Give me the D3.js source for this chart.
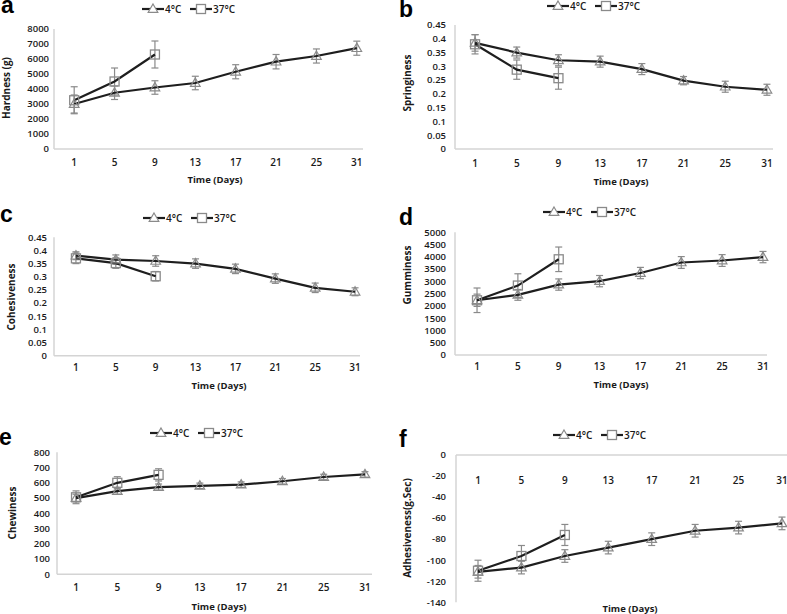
<!DOCTYPE html>
<html><head><meta charset="utf-8">
<script src="https://cdn.jsdelivr.net/npm/d3@7/dist/d3.min.js"></script>
<style>
body{margin:0;background:#fff;}
svg text{font-family:"Open Sans","DejaVu Sans",sans-serif;}
</style></head>
<body><svg id="chart" width="787" height="614"></svg>
<script>
const days = ["1","5","9","13","17","21","25","31"];
const days37 = ["1","5","9"];
const seriesNames = ["4°C","37°C"];

const hardness4 = [3000,3750,4100,4400,5150,5820,6200,6720];
const hardness4Err = [600,450,450,450,470,480,470,470];
const hardness37 = [3250,4500,6300];
const hardness37Err = [900,900,900];
const hardnessTicks = [0,1000,2000,3000,4000,5000,6000,7000,8000];

const springiness4 = [0.385,0.350,0.322,0.317,0.290,0.248,0.226,0.215];
const springiness4Err = [0.03,0.02,0.02,0.02,0.02,0.015,0.02,0.02];
const springiness37 = [0.380,0.288,0.257];
const springiness37Err = [0.035,0.035,0.04];
const springinessTicks = [0,0.05,0.1,0.15,0.2,0.25,0.3,0.35,0.4,0.45];

const cohesiveness4 = [0.380,0.365,0.360,0.350,0.330,0.293,0.258,0.243];
const cohesiveness4Err = [0.015,0.018,0.02,0.018,0.018,0.018,0.018,0.015];
const cohesiveness37 = [0.370,0.352,0.302];
const cohesiveness37Err = [0.02,0.02,0.018];
const cohesivenessTicks = [0,0.05,0.1,0.15,0.2,0.25,0.3,0.35,0.4,0.45];

const gumminess4 = [2230,2450,2870,3010,3340,3770,3850,3990];
const gumminess4Err = [250,220,230,230,230,240,240,230];
const gumminess37 = [2230,2830,3900];
const gumminess37Err = [500,480,500];
const gumminessTicks = [0,500,1000,1500,2000,2500,3000,3500,4000,4500,5000];

const chewiness4 = [500,545,572,580,588,610,638,655];
const chewiness4Err = [25,20,20,18,18,18,18,18];
const chewiness37 = [505,600,652];
const chewiness37Err = [42,40,40];
const chewinessTicks = [0,100,200,300,400,500,600,700,800];

const adhesiveness4 = [-111,-107,-96,-88,-80,-72,-69,-65];
const adhesiveness4Err = [6,6,6,6,6,6,6,6];
const adhesiveness37 = [-110,-96,-76];
const adhesiveness37Err = [10,10,10];
const adhesivenessTicks = [-140,-120,-100,-80,-60,-40,-20,0];

const svg = d3.select("#chart");
const LINE = "#1e1e1e", MARK = "#8a8a8a", AXIS = "#d4d4d4", TXT = "#1a1a1a";

function panel(cfg){
  const g = svg.append("g");
  const x = d3.scalePoint().domain(days).range(cfg.xr).padding(0.5);
  const y = d3.scaleLinear().domain(cfg.domain).range(cfg.yr);
  const axisY = cfg.topAxis ? y(0) : y(cfg.domain[0]);
  g.append("line").attr("x1",cfg.ax).attr("x2",cfg.ax)
    .attr("y1",y(cfg.domain[1])).attr("y2",y(cfg.domain[0]))
    .attr("stroke",AXIS).attr("stroke-width",1.5);
  g.append("line").attr("x1",cfg.ax).attr("x2",cfg.lineEnd)
    .attr("y1",axisY).attr("y2",axisY)
    .attr("stroke",AXIS).attr("stroke-width",1.5);
  g.selectAll(".yt").data(cfg.ticks).join("text")
    .attr("x",cfg.ax - cfg.gap).attr("y",d=>y(d)).attr("dy","0.35em")
    .attr("text-anchor","end").attr("font-size",9.5).attr("font-weight",600).attr("fill",TXT)
    .text(d=>String(+d.toFixed(2)));
  g.selectAll(".xt").data(days).join("text")
    .attr("x",d=>x(d)).attr("y",cfg.xly).attr("dy","0.35em")
    .attr("text-anchor","middle").attr("font-size",10).attr("font-weight",600).attr("fill",TXT)
    .text(d=>d);
  g.append("text").attr("x",cfg.tx).attr("y",cfg.ty).attr("dy","0.35em")
    .attr("text-anchor","middle").attr("font-size",9.5).attr("font-weight",700).attr("fill",TXT)
    .text("Time (Days)");
  g.append("text").attr("transform",`translate(${cfg.ylx},${cfg.yly}) rotate(-90)`)
    .attr("dy","0.35em").attr("text-anchor","middle")
    .style("font-family","'Liberation Sans Narrow','Open Sans',sans-serif")
    .attr("font-size",10).attr("font-weight",700).attr("fill",TXT)
    .text(cfg.ylabel);
  g.append("text").attr("x",cfg.lx).attr("y",cfg.ly)
    .style("font-family","'Liberation Sans',Arial,sans-serif")
    .attr("font-size",23).attr("font-weight",700).attr("fill","#000").text(cfg.letter);

  const s4 = days.map((d,i)=>({d, v:cfg.v4[i], e:cfg.e4[i]}));
  const s37 = days37.map((d,i)=>({d, v:cfg.v37[i], e:cfg.e37[i]}));
  const tri = d3.symbol().type(d3.symbolTriangle).size(40);
  function errs(data){
    data.forEach(p=>{
      const cx = x(p.d);
      g.append("line").attr("x1",cx).attr("x2",cx).attr("y1",y(p.v-p.e)).attr("y2",y(p.v+p.e))
        .attr("stroke",MARK).attr("stroke-width",1.2);
      [p.v-p.e,p.v+p.e].forEach(v=>g.append("line").attr("x1",cx-3.5).attr("x2",cx+3.5)
        .attr("y1",y(v)).attr("y2",y(v)).attr("stroke",MARK).attr("stroke-width",1.2));
    });
  }
  errs(s37); errs(s4);
  const line = d3.line().x(p=>x(p.d)).y(p=>y(p.v));
  g.append("path").attr("d",line(s4)).attr("fill","none").attr("stroke",LINE).attr("stroke-width",2.2);
  g.append("path").attr("d",line(s37)).attr("fill","none").attr("stroke",LINE).attr("stroke-width",2.2);
  g.selectAll(".m4").data(s4).join("path")
    .attr("d",tri).attr("transform",p=>`translate(${x(p.d)},${y(p.v)+0.5})`)
    .attr("fill","none").attr("stroke",MARK).attr("stroke-width",1.2);
  g.selectAll(".m37").data(s37).join("rect")
    .attr("x",p=>x(p.d)-4.5).attr("y",p=>y(p.v)-4.5).attr("width",9).attr("height",9)
    .attr("fill","none").attr("stroke",MARK).attr("stroke-width",1.3);

  const lg = g.append("g").attr("transform",`translate(${cfg.lgx},${cfg.lgy})`);
  seriesNames.forEach((name,i)=>{
    const ox = i*48;
    lg.append("line").attr("x1",ox).attr("x2",ox+22).attr("y1",0).attr("y2",0)
      .attr("stroke",LINE).attr("stroke-width",2.2);
    if(i===0){
      lg.append("path").attr("d",tri).attr("transform",`translate(${ox+11},0.5)`)
        .attr("fill","#fff").attr("stroke",MARK).attr("stroke-width",1.2);
    } else {
      lg.append("rect").attr("x",ox+11-4.5).attr("y",-4.5).attr("width",9).attr("height",9)
        .attr("fill","#fff").attr("stroke",MARK).attr("stroke-width",1.3);
    }
    lg.append("text").attr("x",ox+23).attr("y",0).attr("dy","0.35em")
      .attr("font-size",10).attr("font-weight",600).attr("fill",TXT).text(name);
  });
}

panel({letter:"a",lx:1,ly:13,ax:54,xr:[54,377],lineEnd:363,yr:[149,29],domain:[0,8000],ticks:hardnessTicks,gap:5,
  xly:162,tx:215,ty:180,ylx:6,yly:88,ylabel:"Hardness (g)",lgx:142,lgy:9,
  v4:hardness4,e4:hardness4Err,v37:hardness37,e37:hardness37Err});
panel({letter:"b",lx:399,ly:17,ax:455,xr:[454.2,787.8],lineEnd:773,yr:[149,25],domain:[0,0.45],ticks:springinessTicks,gap:9,
  xly:163,tx:621,ty:182,ylx:407,yly:83,ylabel:"Springiness",lgx:547,lgy:6,
  v4:springiness4,e4:springiness4Err,v37:springiness37,e37:springiness37Err});
panel({letter:"c",lx:0,ly:222,ax:54,xr:[56,375],lineEnd:360,yr:[355.7,237.3],domain:[0,0.45],ticks:cohesivenessTicks,gap:7,
  xly:367,tx:219,ty:386,ylx:11,yly:297,ylabel:"Cohesiveness",lgx:143,lgy:218,
  v4:cohesiveness4,e4:cohesiveness4Err,v37:cohesiveness37,e37:cohesiveness37Err});
panel({letter:"d",lx:399,ly:225,ax:455,xr:[456.6,783.4],lineEnd:767,yr:[355,232.3],domain:[0,5000],ticks:gumminessTicks,gap:9,
  xly:366,tx:621,ty:385,ylx:407,yly:275,ylabel:"Gumminess",lgx:543,lgy:212,
  v4:gumminess4,e4:gumminess4Err,v37:gumminess37,e37:gumminess37Err});
panel({letter:"e",lx:-1,ly:445,ax:57,xr:[55.4,385.6],lineEnd:372,yr:[574.3,452.3],domain:[0,800],ticks:chewinessTicks,gap:7,
  xly:587,tx:219,ty:607,ylx:12,yly:513,ylabel:"Chewiness",lgx:150,lgy:433,
  v4:chewiness4,e4:chewiness4Err,v37:chewiness37,e37:chewiness37Err});
panel({letter:"f",lx:399,ly:447,ax:456,xr:[456.3,803.7],lineEnd:787,yr:[602.3,455],domain:[-140,0],ticks:adhesivenessTicks,gap:10,topAxis:true,
  xly:480,tx:630,ty:609,ylx:407,yly:528,ylabel:"Adhesiveness(g.Sec)",lgx:553,lgy:435,
  v4:adhesiveness4,e4:adhesiveness4Err,v37:adhesiveness37,e37:adhesiveness37Err});
</script></body></html>
